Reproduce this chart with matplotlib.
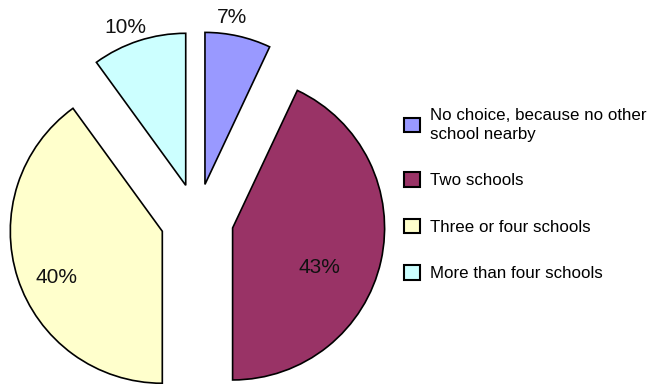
import numpy as np
import matplotlib.pyplot as plt

plt.rcParams['font.family'] = ['Liberation Sans', 'DejaVu Sans']

# 数据
categories = ['No choice, because no other\nschool nearby', 'Two schools',
              'Three or four schools', 'More than four schools']
shares = [7, 43, 40, 10]
colors = ['#9999FF', '#993366', '#FFFFCC', '#CCFFFF']

# 百分比标签的位置：相对扇形半径的距离和角度微调（度）
label_dist = [1.11, 0.63, 0.76, 1.11]
label_turn = [-3.4, 12.0, -5.5, -2.8]

fig = plt.figure(figsize=(6.51, 3.84), dpi=100)
ax = fig.add_axes([0, 0, 1, 1])

explode = [0.24] * len(shares)
wedges, _ = ax.pie(shares, colors=colors, startangle=90, counterclock=False,
                   explode=explode, radius=1, center=(0, 0),
                   wedgeprops=dict(edgecolor='black', linewidth=1.2))

# 百分比标签
for w, v, d, t in zip(wedges, shares, label_dist, label_turn):
    mid = np.deg2rad((w.theta1 + w.theta2) / 2 - t)
    cx, cy = w.center
    ax.text(cx + d * np.cos(mid), cy + d * np.sin(mid), f'{v}%',
            ha='center', va='center', fontsize=15, color='#111111')

# 坐标范围：1 个单位 = 152 像素
scale = 152
ax.set_xlim(-197 / scale, (651 - 197) / scale)
ax.set_ylim(-164 / scale, 220 / scale)
ax.set_aspect('equal', adjustable='datalim')
ax.axis('off')

leg = ax.legend(wedges, categories, loc='upper left',
                bbox_to_anchor=(404 / 651, 1 - 108 / 384),
                bbox_transform=fig.transFigure, frameon=False,
                fontsize=12.2, borderpad=0, borderaxespad=0,
                handlelength=0.95, handleheight=0.95,
                handletextpad=0.6, labelspacing=1.8)
for h in leg.legend_handles:
    h.set_linewidth(1.5)
for t in leg.get_texts():
    t.set_linespacing(1.3)

fig.savefig('out.png', dpi=100)
